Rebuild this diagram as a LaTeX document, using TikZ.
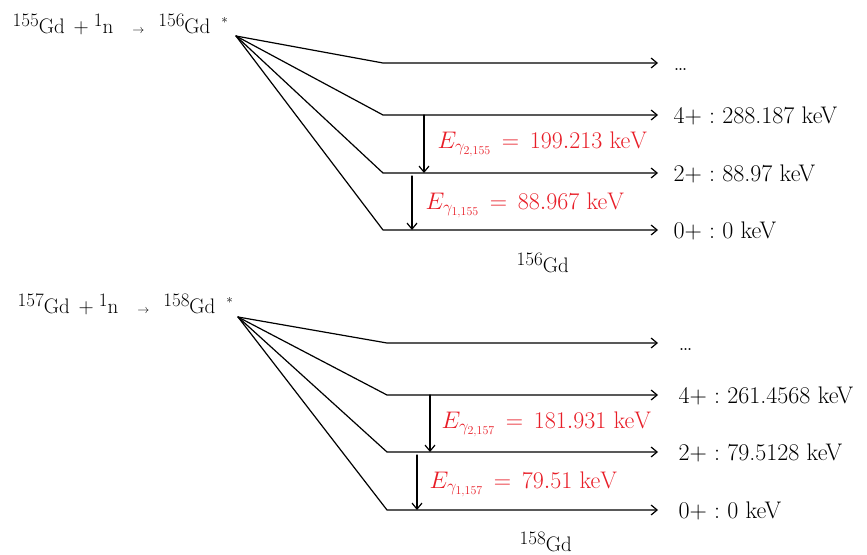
\RequirePackage{fix-cm}
\documentclass[tikz,border=0pt]{standalone}
\usetikzlibrary{arrows.meta}
\definecolor{rossoE}{RGB}{232,30,40}
\newcommand{\isotopo}[2]{\raisebox{0.75ex}{\fontsize{19}{19}\selectfont #1}#2}
\newcommand{\freccina}{{\fontsize{12}{12}\selectfont$\rightarrow$}}
\begin{document}
\begin{tikzpicture}[x=1pt, y=-1pt, line width=1.2pt, line cap=round, line join=round,
        >={Straight Barb[length=6pt,width=10pt]},
        testo/.style={inner sep=0pt, anchor=base west, font=\fontsize{24}{28}\selectfont},
        reazione/.style={testo, font=\fontsize{21}{25}\selectfont},
        rosso/.style={testo, text=rossoE, font=\fontsize{24}{28}\selectfont}]
    \useasboundingbox (0,0) rectangle (867,554);

    % Reazione 155Gd + n (sopra)
    \node[reazione] (reazA) at (12,33) {\isotopo{155}{Gd}\hspace{9pt}$+$\hspace{5pt}\isotopo{1}{n}\hspace{19pt}\freccina\hspace{14pt}\isotopo{156}{Gd}\hspace{11pt}\raisebox{1.1ex}{\fontsize{13}{13}\selectfont$*$}};
    \coordinate (cA) at (236,36);

    % Livelli di 156Gd
    \coordinate (a1) at (383,63);  \coordinate (b1) at (658,63);
    \coordinate (a2) at (383,115); \coordinate (b2) at (658,115);
    \coordinate (a3) at (383,173); \coordinate (b3) at (658,173);
    \coordinate (a4) at (383,230); \coordinate (b4) at (658,230);
    \draw[->] (cA) -- (a1) -- (b1);
    \draw[->] (cA) -- (a2) -- (b2);
    \draw[->] (cA) -- (a3) -- (b3);
    \draw[->] (cA) -- (a4) -- (b4);
    \node[testo] (la1) at (673,70) {\dots};
    \node[testo] (la2) at (673,123) {4+\ :\ 288.187\ keV};
    \node[testo] (la3) at (673,181) {2+\ :\ 88.97\ keV};
    \node[testo] (la4) at (673,238) {0+\ :\ 0\ keV};

    % Transizioni gamma (156Gd)
    \coordinate (ga2) at (424,115); \coordinate (gb2) at (424,173);
    \coordinate (ga1) at (412,176); \coordinate (gb1) at (412,230);
    \draw[->] (ga2) -- (gb2);
    \draw[->] (ga1) -- (gb1);
    \node[rosso] (ea2) at (437,148) {$E_{\gamma_{2,155}} \,=\, 199.213\ \mathrm{keV}$};
    \node[rosso] (ea1) at (425,209) {$E_{\gamma_{1,155}} \,=\, 88.967\ \mathrm{keV}$};
    \node[reazione] (isoA) at (516,272) {\isotopo{156}{Gd}};

    % Reazione 157Gd + n (sotto)
    \node[reazione] (reazB) at (17,313) {\isotopo{157}{Gd}\hspace{9pt}$+$\hspace{5pt}\isotopo{1}{n}\hspace{19pt}\freccina\hspace{14pt}\isotopo{158}{Gd}\hspace{11pt}\raisebox{1.1ex}{\fontsize{13}{13}\selectfont$*$}};
    \coordinate (cB) at (238,317);

    % Livelli di 158Gd
    \coordinate (c1) at (387,343); \coordinate (d1) at (658,343);
    \coordinate (c2) at (387,395); \coordinate (d2) at (658,395);
    \coordinate (c3) at (387,452); \coordinate (d3) at (658,452);
    \coordinate (c4) at (387,510); \coordinate (d4) at (658,510);
    \draw[->] (cB) -- (c1) -- (d1);
    \draw[->] (cB) -- (c2) -- (d2);
    \draw[->] (cB) -- (c3) -- (d3);
    \draw[->] (cB) -- (c4) -- (d4);
    \node[testo] (lb1) at (678,350) {\dots};
    \node[testo] (lb2) at (678,403) {4+\ :\ 261.4568\ keV};
    \node[testo] (lb3) at (678,460) {2+\ :\ 79.5128\ keV};
    \node[testo] (lb4) at (678,518) {0+\ :\ 0\ keV};

    % Transizioni gamma (158Gd)
    \coordinate (gc2) at (430,395); \coordinate (gd2) at (430,452);
    \coordinate (gc1) at (417,455); \coordinate (gd1) at (417,510);
    \draw[->] (gc2) -- (gd2);
    \draw[->] (gc1) -- (gd1);
    \node[rosso] (eb2) at (441,428) {$E_{\gamma_{2,157}} \,=\, 181.931\ \mathrm{keV}$};
    \node[rosso] (eb1) at (429,488) {$E_{\gamma_{1,157}} \,=\, 79.51\ \mathrm{keV}$};
    \node[reazione] (isoB) at (519,551) {\isotopo{158}{Gd}};
\end{tikzpicture}
\end{document}
